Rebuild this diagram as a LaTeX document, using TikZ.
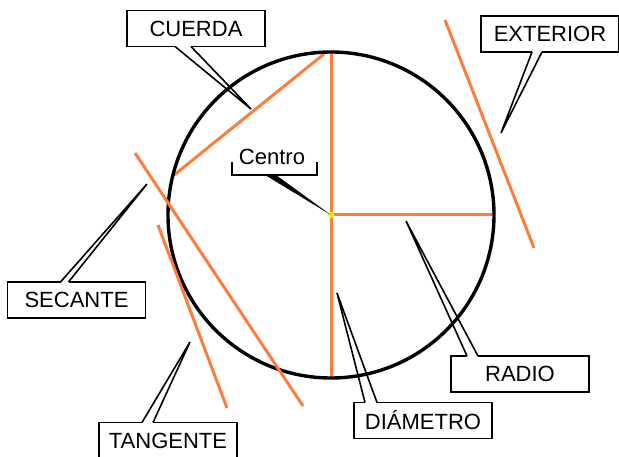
\documentclass[tikz,border=0pt]{standalone}
\usepackage{fontspec}
\setmainfont{Liberation Sans}
\definecolor{naranja}{RGB}{255,125,60}
\tikzset{
  etiqueta/.style={draw, line width=1.9pt, fill=white, outer sep=0pt, inner sep=0pt,
    minimum width=138pt, minimum height=36pt, font=\fontsize{22}{26}\selectfont},
  flecha/.style={line width=1.6pt},
  recta/.style={naranja, line width=3pt},
}
\begin{document}
\begin{tikzpicture}[x=1pt,y=-1pt]
\useasboundingbox (0,0) rectangle (619,457);
% circunferencia y sus elementos
\coordinate (O) at (331,215);
\coordinate (arriba) at (331,52);
\coordinate (abajo) at (331,378);
\coordinate (derecha) at (494,215);
\coordinate (c1) at (324,54);
\coordinate (c2) at (174,175);
\draw[recta] (arriba)--(abajo);
\draw[recta] (O)--(derecha);
\draw[recta] (c1)--(c2);
\draw[line width=3.4pt] (O) circle[radius=163pt];
\draw[recta] (135,153)--(303,406);
\draw[recta] (158,225)--(227,408);
\draw[recta] (445,20)--(534,248);
\fill[yellow] (O) circle[radius=3.2pt];
% etiquetas
\node[etiqueta] (cuerda) at (196,28.5) {CUERDA};
\node[etiqueta] (exterior) at (550,34) {EXTERIOR};
\node[etiqueta] (secante) at (76.5,300) {SECANTE};
\node[etiqueta] (tangente) at (168,440.5) {TANGENTE};
\node[etiqueta] (radio) at (520,374) {RADIO};
\node[etiqueta] (diametro) at (423,420.5) {DIÁMETRO};
\coordinate (pcuerda) at (251,109);
\coordinate (pexterior) at (501,133);
\coordinate (psecante) at (147,184);
\coordinate (ptangente) at (190,342);
\coordinate (pradio) at (406,221);
\coordinate (pdiametro) at (337,293);
\foreach \n/\a/\p/\q/\t in {cuerda/south west/48/64/pcuerda, exterior/south west/51/61/pexterior,
  secante/north west/53/61/psecante, tangente/north west/43/54/ptangente,
  radio/north west/16/27/pradio, diametro/north west/11/23/pdiametro}{
  \draw[white, line width=2.8pt] ([xshift=\p]\n.\a)--([xshift=\q]\n.\a);
  \draw[flecha] ([xshift=\p]\n.\a)--(\t)--([xshift=\q]\n.\a);
}
% centro
\node[font=\fontsize{22}{26}\selectfont] (centro) at (272,157) {Centro};
\draw[line width=1.9pt] (232,162) |- (317,175) -- (317,162);
\fill (265,175)--(O)--(276,175)--cycle;
\end{tikzpicture}
\end{document}
